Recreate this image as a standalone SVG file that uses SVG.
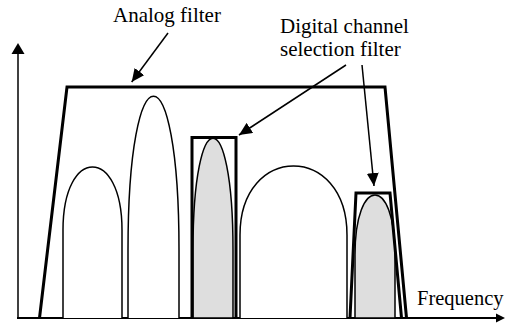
<svg xmlns="http://www.w3.org/2000/svg" width="505" height="326" viewBox="0 0 505 326">
<style>
.lbl{font-family:'Liberation Serif','DejaVu Serif',serif;font-size:21px;fill:#000}
.lobe{fill:#fff;stroke:#000;stroke-width:1.5}
.sel{fill:#dedede;stroke:#000;stroke-width:1.5}
.thick{fill:none;stroke:#000;stroke-width:3;stroke-linejoin:miter}
.ptr{fill:none;stroke:#000;stroke-width:1.5}
</style>
<defs>
<marker id="ah" markerUnits="userSpaceOnUse" markerWidth="14" markerHeight="12" refX="13" refY="6" orient="auto">
<path d="M0,0 L13,6 L0,12 z" fill="#000"/>
</marker>
</defs>
<rect width="505" height="326" fill="#fff"/>
<g id="axes">
<line x1="18" y1="318" x2="18" y2="53" stroke="#000" stroke-width="1.5"/>
<path d="M11.5,54 L18,43 L24.5,54 z" fill="#000"/>
<line x1="17" y1="318" x2="497" y2="318" stroke="#000" stroke-width="2"/>
<path d="M496,313.5 L505,318 L496,322.5 z" fill="#000"/>
</g>
<g id="lobe-1"><path class="lobe" d="M63,318 L63,230 C63,146 122,146 122,230 L122,318"/></g>
<g id="lobe-2"><path class="lobe" d="M128,318 L128,250 C128,45 179,45 179,250 L179,318"/></g>
<g id="lobe-3"><path class="sel" d="M193,318 L193,250 C193,101 233,101 233,250 L233,318 z"/></g>
<g id="lobe-4"><path class="lobe" d="M240,318 L240,235 C240,143 347,143 347,235 L347,318"/></g>
<g id="lobe-5"><path class="sel" d="M355,318 L355,255 C355,175 395,175 395,255 L395,318 z"/></g>
<g id="analog-filter"><path class="thick" d="M39.5,318 L67,87 L385,87 L406.5,318"/></g>
<g id="channel-filter-1"><path class="thick" d="M192,318 L192,137.5 L236,137.5 L236,318"/></g>
<g id="channel-filter-2"><path class="thick" d="M350,318 L356,193 L390,193 L401.5,318"/></g>
<g id="label-analog"><text class="lbl" x="113" y="21.5">Analog filter</text></g>
<g id="label-digital"><text class="lbl" x="280" y="33">Digital channel</text><text class="lbl" x="280" y="56">selection filter</text></g>
<g id="label-frequency"><text class="lbl" x="417" y="305" style="font-size:20.5px">Frequency</text></g>
<g id="connectors">
<line class="ptr" x1="168" y1="33" x2="131.7" y2="82" marker-end="url(#ah)"/>
<line class="ptr" x1="346" y1="65" x2="239" y2="135" marker-end="url(#ah)"/>
<line class="ptr" x1="362" y1="65" x2="374" y2="186" marker-end="url(#ah)"/>
</g>
</svg>
